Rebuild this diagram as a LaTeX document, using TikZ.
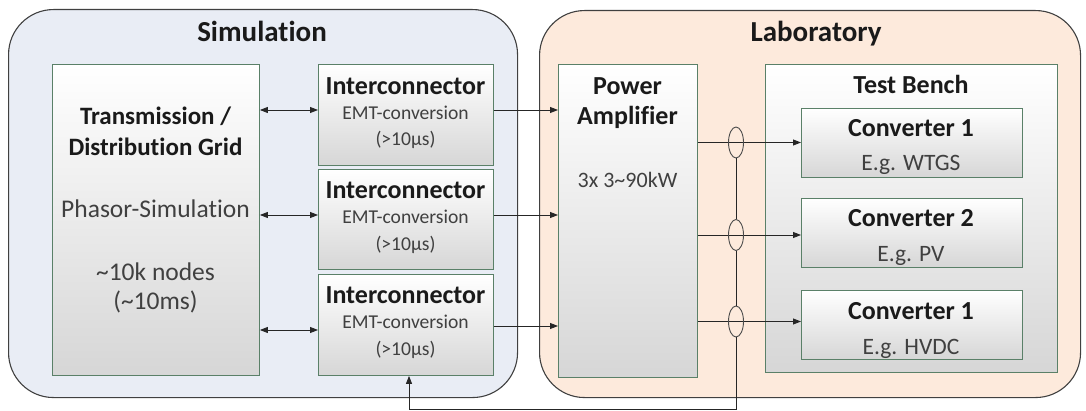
\documentclass[tikz,border=0pt]{standalone}
\usepackage{fontspec}
\setmainfont{Carlito}[Ligatures=NoCommon]
\usetikzlibrary{arrows.meta,shapes.geometric}
\definecolor{simfill}{HTML}{E9EDF5}
\definecolor{labfill}{HTML}{FDEADC}
\definecolor{boxline}{HTML}{5A8068}
\definecolor{txtdark}{HTML}{1A1A1A}
\definecolor{txtgray}{HTML}{404040}
\begin{document}
\begin{tikzpicture}[x=1pt,y=-1pt,
  container/.style={draw=black!75, line width=1.1pt, rounded corners=45pt, anchor=north west, inner sep=0pt},
  blk/.style={draw=boxline, line width=0.9pt, top color=white, bottom color=black!16, anchor=north west, inner sep=0pt},
  ttl/.style={font=\fontsize{29}{32}\selectfont\bfseries, text=txtdark, anchor=base},
  bt/.style={font=\fontsize{26}{30}\selectfont\bfseries, text=txtdark, anchor=base},
  btt/.style={font=\fontsize{25}{30}\selectfont\bfseries, text=txtdark, anchor=base},
  rt/.style={font=\fontsize{19.6}{22}\selectfont, text=txtgray, anchor=base},
  rte/.style={font=\fontsize{23.5}{26}\selectfont, text=txtgray, anchor=base},
  rtp/.style={font=\fontsize{22}{26}\selectfont, text=txtgray, anchor=base},
  rtl/.style={font=\fontsize{25.5}{28}\selectfont, text=txtgray, anchor=base},
  arr/.style={-{Triangle[length=8pt,width=6pt]}, line width=0.9pt, draw=black!85},
  darr/.style={{Triangle[length=8pt,width=6pt]}-{Triangle[length=8pt,width=6pt]}, line width=0.9pt, draw=black!85},
  ln/.style={line width=0.9pt, draw=black!85},
  ring/.style={ellipse, draw=black!70, line width=0.9pt, minimum width=15pt, minimum height=31pt, inner sep=0pt}
]
\useasboundingbox (0,0) rectangle (1086,411);
% containers
\node[container, fill=simfill, minimum width=509pt, minimum height=388pt] (sim) at (8,9) {};
\node[container, fill=labfill, minimum width=541pt, minimum height=387pt] (lab) at (539,10) {};
\node[ttl] (simt) at (262,41.4) {Simulation};
\node[ttl] (labt) at (816,41.4) {Laboratory};
% simulation blocks
\node[blk, minimum width=207pt, minimum height=311pt] (trans) at (52,64) {};
\node[blk, minimum width=175pt, minimum height=101pt] (ic1) at (318,64) {};
\node[blk, minimum width=175pt, minimum height=100pt] (ic2) at (318,169) {};
\node[blk, minimum width=175pt, minimum height=101pt] (ic3) at (318,274) {};
\node[btt] (tr1) at (155.5,124.3) {Transmission /};
\node[btt] (tr2) at (155.5,155.8) {Distribution Grid};
\node[rtl] (tr3) at (155.5,217.8) {Phasor-Simulation};
\node[rtl] (tr4) at (155.5,281) {\textasciitilde10k nodes};
\node[rtl] (tr5) at (155.5,310) {(\textasciitilde10ms)};
\node[bt] (i1a) at (405.5,94.5) {Interconnector};
\node[rt] (i1b) at (405.5,119.3) {EMT-conversion};
\node[rt] (i1c) at (405.5,145.8) {(>10µs)};
\node[bt] (i2a) at (405.5,198.9) {Interconnector};
\node[rt] (i2b) at (405.5,224) {EMT-conversion};
\node[rt] (i2c) at (405.5,251) {(>10µs)};
\node[bt] (i3a) at (405.5,303.3) {Interconnector};
\node[rt] (i3b) at (405.5,328) {EMT-conversion};
\node[rt] (i3c) at (405.5,355) {(>10µs)};
% laboratory blocks
\node[blk, minimum width=139pt, minimum height=313pt] (pa) at (558,64) {};
\node[blk, minimum width=292pt, minimum height=308pt] (tb) at (765,64) {};
\node[blk, minimum width=221pt, minimum height=69pt] (cv1) at (801,108) {};
\node[blk, minimum width=221pt, minimum height=69pt] (cv2) at (801,198) {};
\node[blk, minimum width=221pt, minimum height=69pt] (cv3) at (801,290) {};
\node[bt] (pa1) at (627.5,94.5) {Power};
\node[bt] (pa2) at (627.5,124.3) {Amplifier};
\node[rtp] (pa3) at (627.5,188) {3x 3\textasciitilde90kW};
\node[bt] (tbt) at (911,93.8) {Test Bench};
\node[bt] (c1a) at (911,136.9) {Converter 1};
\node[rte] (c1b) at (911,170.7) {E.g. WTGS};
\node[bt] (c2a) at (911,227) {Converter 2};
\node[rte] (c2b) at (911,261.8) {E.g. PV};
\node[bt] (c3a) at (911,319.2) {Converter 1};
\node[rte] (c3b) at (911,354) {E.g. HVDC};
% helper rows
\coordinate (r1) at (0,110);
\coordinate (r2) at (0,215);
\coordinate (r3) at (0,330);
\coordinate (s3) at (0,326);
\coordinate (q1) at (0,142.5);
\coordinate (q2) at (0,235);
\coordinate (q3) at (0,321.5);
% double arrows
\draw[darr] (trans.east |- r1) -- (ic1.west |- r1);
\draw[darr] (trans.east |- r2) -- (ic2.west |- r2);
\draw[darr] (trans.east |- r3) -- (ic3.west |- r3);
% interconnector -> amplifier
\draw[arr] (ic1.east |- r1) -- (pa.west |- r1);
\draw[arr] (ic2.east |- r2) -- (pa.west |- r2);
\draw[arr] (ic3.east |- s3) -- (pa.west |- s3);
% amplifier -> converters
\draw[arr] (pa.east |- q1) -- (cv1.west |- q1);
\draw[arr] (pa.east |- q2) -- (cv2.west |- q2);
\draw[arr] (pa.east |- q3) -- (cv3.west |- q3);
% measurement rings
\node[ring] (e1) at (736,142.5) {};
\node[ring] (e2) at (736,235) {};
\node[ring] (e3) at (736,321.5) {};
\coordinate (k1) at (736,409);
\coordinate (k2) at (409,409);
\draw[ln] (e1.south) -- (e2.north);
\draw[ln] (e2.south) -- (e3.north);
\draw[arr] (e3.south) -- (k1) -- (k2) -- (k2 |- ic3.south);
\end{tikzpicture}
\end{document}
